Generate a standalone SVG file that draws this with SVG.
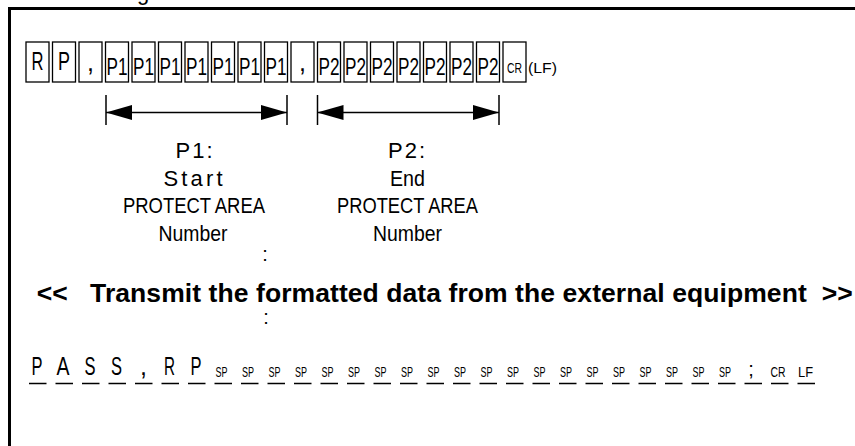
<svg xmlns="http://www.w3.org/2000/svg" width="855" height="446" viewBox="0 0 855 446">
<defs>
<style>
text{font-family:"Liberation Sans",Arial,sans-serif;fill:#000}
.box{fill:#fff;stroke:#000;stroke-width:1.3}
.big{font-size:25px}
.p{font-size:23px}
.sm{font-size:14px}
.lbl{font-size:22px;text-anchor:middle}
.col{font-size:20px;text-anchor:middle}
.bot{font-size:25px;text-anchor:middle}
.sp{font-size:14px;text-anchor:middle}
.tick{stroke:#000;stroke-width:1.5}
.shaft{stroke:#000;stroke-width:1.5;fill:none}
</style>
<marker id="ah" viewBox="0 0 26 15" refX="26" refY="7.5" markerWidth="26" markerHeight="15" markerUnits="userSpaceOnUse" orient="auto-start-reverse">
<path d="M0,0 L26,7.5 L0,15 Z" fill="#000"/>
</marker>
</defs>
<rect width="855" height="446" fill="#fff"/>
<text x="137" y="0" style="font-size:22px">g</text>
<g id="frame">
<path d="M9.5,446 V8.5 H855" fill="none" stroke="#000" stroke-width="3"/>
</g>
<g id="command-boxes">
<rect class="box" x="26" y="42" width="23" height="40"/>
<rect class="box" x="52.5" y="42" width="23" height="40"/>
<rect class="box" x="79" y="42" width="23" height="40"/>
<rect class="box" x="105.5" y="42" width="23" height="40"/>
<rect class="box" x="132" y="42" width="23" height="40"/>
<rect class="box" x="158.5" y="42" width="23" height="40"/>
<rect class="box" x="185" y="42" width="23" height="40"/>
<rect class="box" x="211.5" y="42" width="23" height="40"/>
<rect class="box" x="238" y="42" width="23" height="40"/>
<rect class="box" x="264.5" y="42" width="23" height="40"/>
<rect class="box" x="291" y="42" width="23" height="40"/>
<rect class="box" x="317.5" y="42" width="23" height="40"/>
<rect class="box" x="344" y="42" width="23" height="40"/>
<rect class="box" x="370.5" y="42" width="23" height="40"/>
<rect class="box" x="397" y="42" width="23" height="40"/>
<rect class="box" x="423.5" y="42" width="23" height="40"/>
<rect class="box" x="450" y="42" width="23" height="40"/>
<rect class="box" x="476.5" y="42" width="23" height="40"/>
<rect class="box" x="503" y="42" width="23" height="40"/>
<text class="big" x="31.5" y="70" textLength="12" lengthAdjust="spacingAndGlyphs">R</text>
<text class="big" x="58" y="70" textLength="12" lengthAdjust="spacingAndGlyphs">P</text>
<text class="big" x="87" y="71">,</text>
<text class="p" x="106.5" y="75" textLength="21" lengthAdjust="spacingAndGlyphs">P1</text>
<text class="p" x="133" y="75" textLength="21" lengthAdjust="spacingAndGlyphs">P1</text>
<text class="p" x="159.5" y="75" textLength="21" lengthAdjust="spacingAndGlyphs">P1</text>
<text class="p" x="186" y="75" textLength="21" lengthAdjust="spacingAndGlyphs">P1</text>
<text class="p" x="212.5" y="75" textLength="21" lengthAdjust="spacingAndGlyphs">P1</text>
<text class="p" x="239" y="75" textLength="21" lengthAdjust="spacingAndGlyphs">P1</text>
<text class="p" x="265.5" y="75" textLength="21" lengthAdjust="spacingAndGlyphs">P1</text>
<text class="big" x="299" y="71">,</text>
<text class="p" x="318.5" y="75" textLength="21" lengthAdjust="spacingAndGlyphs">P2</text>
<text class="p" x="345" y="75" textLength="21" lengthAdjust="spacingAndGlyphs">P2</text>
<text class="p" x="371.5" y="75" textLength="21" lengthAdjust="spacingAndGlyphs">P2</text>
<text class="p" x="398" y="75" textLength="21" lengthAdjust="spacingAndGlyphs">P2</text>
<text class="p" x="424.5" y="75" textLength="21" lengthAdjust="spacingAndGlyphs">P2</text>
<text class="p" x="451" y="75" textLength="21" lengthAdjust="spacingAndGlyphs">P2</text>
<text class="p" x="477.5" y="75" textLength="21" lengthAdjust="spacingAndGlyphs">P2</text>
<text class="sm" x="507" y="73" textLength="15" lengthAdjust="spacingAndGlyphs">CR</text>
<text class="sm" x="528" y="73" textLength="29" lengthAdjust="spacingAndGlyphs">(LF)</text>
</g>
<g id="connectors">
<line class="tick" x1="106" y1="95" x2="106" y2="125"/>
<line class="tick" x1="287" y1="95" x2="287" y2="125"/>
<line class="shaft" x1="106" y1="112.5" x2="287" y2="112.5" marker-start="url(#ah)" marker-end="url(#ah)"/>
<line class="tick" x1="317.5" y1="95" x2="317.5" y2="125"/>
<line class="tick" x1="499" y1="95" x2="499" y2="125"/>
<line class="shaft" x1="317.5" y1="112.5" x2="499" y2="112.5" marker-start="url(#ah)" marker-end="url(#ah)"/>
</g>
<g id="label-p1">
<text class="lbl" x="194" y="158" textLength="37" lengthAdjust="spacing">P1:</text>
<text class="lbl" x="193" y="185.5" textLength="59" lengthAdjust="spacing">Start</text>
<text class="lbl" x="194" y="213" textLength="142" lengthAdjust="spacingAndGlyphs">PROTECT  AREA</text>
<text class="lbl" x="193" y="240.5" textLength="69" lengthAdjust="spacingAndGlyphs">Number</text>
</g>
<g id="label-p2">
<text class="lbl" x="406.5" y="158" textLength="37" lengthAdjust="spacing">P2:</text>
<text class="lbl" x="407.5" y="185.5" textLength="35" lengthAdjust="spacingAndGlyphs">End</text>
<text class="lbl" x="407.5" y="213" textLength="141" lengthAdjust="spacingAndGlyphs">PROTECT  AREA</text>
<text class="lbl" x="407.5" y="240.5" textLength="69" lengthAdjust="spacingAndGlyphs">Number</text>
</g>
<g id="ellipsis-1"><text class="col" x="265" y="261">:</text></g>
<g id="title">
<text x="36.7" y="302" style="font-size:26.5px;font-weight:bold;white-space:pre" textLength="816" lengthAdjust="spacing">&lt;&lt;   Transmit the formatted data from the external equipment  &gt;&gt;</text>
</g>
<g id="ellipsis-2"><text class="col" x="266" y="324">:</text></g>
<g id="response">
<text class="bot" x="37" y="375" textLength="11" lengthAdjust="spacingAndGlyphs">P</text>
<text class="bot" x="63" y="375" textLength="13" lengthAdjust="spacingAndGlyphs">A</text>
<text class="bot" x="90" y="375" textLength="11" lengthAdjust="spacingAndGlyphs">S</text>
<text class="bot" x="116.5" y="375" textLength="11" lengthAdjust="spacingAndGlyphs">S</text>
<text class="bot" x="143.5" y="375">,</text>
<text class="bot" x="169.5" y="375" textLength="11" lengthAdjust="spacingAndGlyphs">R</text>
<text class="bot" x="196" y="375" textLength="11" lengthAdjust="spacingAndGlyphs">P</text>
<text class="sp" x="221.5" y="377" textLength="12" lengthAdjust="spacingAndGlyphs">SP</text>
<text class="sp" x="248" y="377" textLength="12" lengthAdjust="spacingAndGlyphs">SP</text>
<text class="sp" x="274.5" y="377" textLength="12" lengthAdjust="spacingAndGlyphs">SP</text>
<text class="sp" x="301" y="377" textLength="12" lengthAdjust="spacingAndGlyphs">SP</text>
<text class="sp" x="327.5" y="377" textLength="12" lengthAdjust="spacingAndGlyphs">SP</text>
<text class="sp" x="354" y="377" textLength="12" lengthAdjust="spacingAndGlyphs">SP</text>
<text class="sp" x="380.5" y="377" textLength="12" lengthAdjust="spacingAndGlyphs">SP</text>
<text class="sp" x="407" y="377" textLength="12" lengthAdjust="spacingAndGlyphs">SP</text>
<text class="sp" x="433.5" y="377" textLength="12" lengthAdjust="spacingAndGlyphs">SP</text>
<text class="sp" x="460" y="377" textLength="12" lengthAdjust="spacingAndGlyphs">SP</text>
<text class="sp" x="486.5" y="377" textLength="12" lengthAdjust="spacingAndGlyphs">SP</text>
<text class="sp" x="513" y="377" textLength="12" lengthAdjust="spacingAndGlyphs">SP</text>
<text class="sp" x="539.5" y="377" textLength="12" lengthAdjust="spacingAndGlyphs">SP</text>
<text class="sp" x="566" y="377" textLength="12" lengthAdjust="spacingAndGlyphs">SP</text>
<text class="sp" x="592.5" y="377" textLength="12" lengthAdjust="spacingAndGlyphs">SP</text>
<text class="sp" x="619" y="377" textLength="12" lengthAdjust="spacingAndGlyphs">SP</text>
<text class="sp" x="645.5" y="377" textLength="12" lengthAdjust="spacingAndGlyphs">SP</text>
<text class="sp" x="672" y="377" textLength="12" lengthAdjust="spacingAndGlyphs">SP</text>
<text class="sp" x="698.5" y="377" textLength="12" lengthAdjust="spacingAndGlyphs">SP</text>
<text class="sp" x="725" y="377" textLength="12" lengthAdjust="spacingAndGlyphs">SP</text>
<text class="bot" x="751" y="376" style="font-size:20px">;</text>
<text class="sp" x="778" y="377" textLength="15" lengthAdjust="spacingAndGlyphs">CR</text>
<text class="sp" x="805.5" y="377" textLength="15" lengthAdjust="spacingAndGlyphs">LF</text>
<line x1="29" y1="383.5" x2="815.5" y2="383.5" stroke="#000" stroke-width="1.5" stroke-dasharray="17.5 9"/>
</g>
</svg>
